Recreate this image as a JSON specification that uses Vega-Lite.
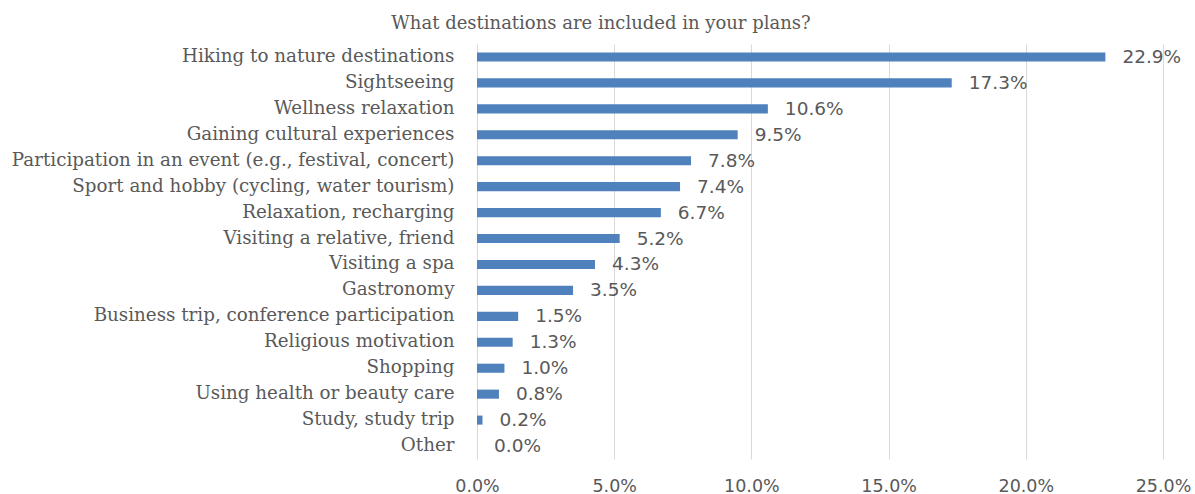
{
  "$schema": "https://vega.github.io/schema/vega-lite/v6.json",
  "width": 686,
  "height": 415,
  "autosize": {"type": "none"},
  "padding": {"left": 477, "top": 44, "right": 32, "bottom": 35},
  "background": "white",
  "title": {
    "text": "What destinations are included in your plans?",
    "font": "DejaVu Serif",
    "fontSize": 18,
    "fontWeight": "normal",
    "color": "#595959",
    "anchor": "middle",
    "dx": -219,
    "offset": 11
  },
  "data": {
    "values": [
      {"category": "Hiking to nature destinations", "pct": 0.229},
      {"category": "Sightseeing", "pct": 0.173},
      {"category": "Wellness relaxation", "pct": 0.106},
      {"category": "Gaining cultural experiences", "pct": 0.095},
      {"category": "Participation in an event (e.g., festival, concert)", "pct": 0.078},
      {"category": "Sport and hobby (cycling, water tourism)", "pct": 0.074},
      {"category": "Relaxation, recharging", "pct": 0.067},
      {"category": "Visiting a relative, friend", "pct": 0.052},
      {"category": "Visiting a spa", "pct": 0.043},
      {"category": "Gastronomy", "pct": 0.035},
      {"category": "Business trip, conference participation", "pct": 0.015},
      {"category": "Religious motivation", "pct": 0.013},
      {"category": "Shopping", "pct": 0.010},
      {"category": "Using health or beauty care", "pct": 0.008},
      {"category": "Study, study trip", "pct": 0.002},
      {"category": "Other", "pct": 0.0}
    ]
  },
  "encoding": {
    "y": {
      "field": "category",
      "type": "nominal",
      "sort": null,
      "scale": {"paddingInner": 0.65, "paddingOuter": 0.325},
      "axis": {
        "title": null,
        "domain": false,
        "ticks": false,
        "labelPadding": 23,
        "labelFont": "DejaVu Serif",
        "labelFontSize": 18.3,
        "labelColor": "#595959",
        "labelLimit": 0
      }
    },
    "x": {
      "field": "pct",
      "type": "quantitative",
      "scale": {"domain": [0, 0.25], "nice": false},
      "axis": {
        "title": null,
        "format": ".1%",
        "values": [0, 0.05, 0.1, 0.15, 0.2, 0.25],
        "domain": false,
        "ticks": false,
        "grid": true,
        "gridColor": "#d9d9d9",
        "gridWidth": 1,
        "labelFlush": false,
        "labelPadding": 18,
        "labelFont": "DejaVu Sans",
        "labelFontSize": 17.5,
        "labelColor": "#595959"
      }
    }
  },
  "layer": [
    {"mark": {"type": "bar", "color": "#4f81bd"}},
    {
      "mark": {"type": "text", "align": "left", "baseline": "middle", "dx": 17, "font": "DejaVu Sans", "fontSize": 18.5, "color": "#595959"},
      "encoding": {"text": {"field": "pct", "type": "quantitative", "format": ".1%"}}
    }
  ],
  "config": {"view": {"stroke": null}}
}
